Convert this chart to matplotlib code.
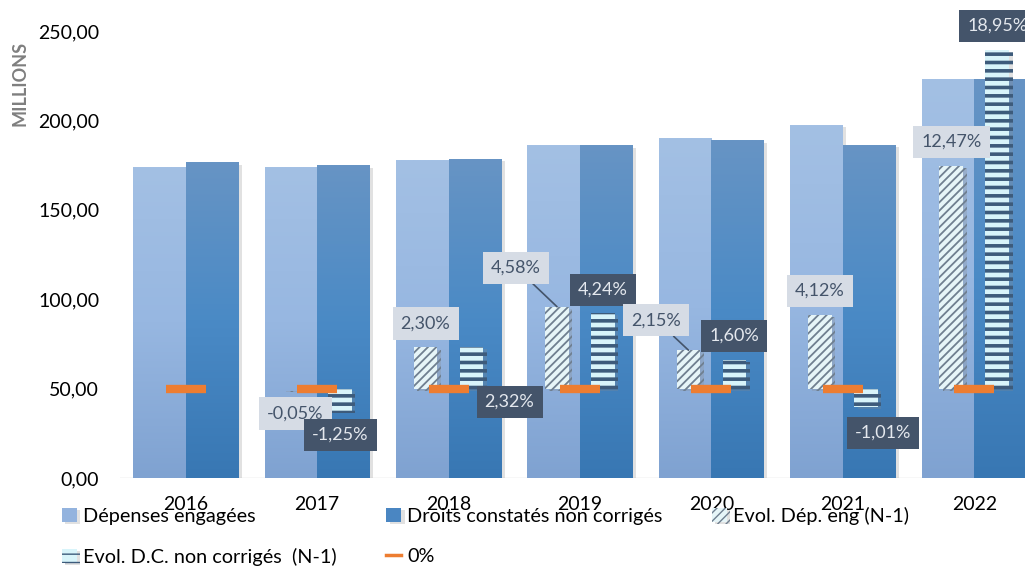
import matplotlib
matplotlib.use('Agg')
import matplotlib.pyplot as plt
import numpy as np
from matplotlib import patheffects as pe
from matplotlib.colors import LinearSegmentedColormap
from matplotlib.lines import Line2D
from matplotlib.ticker import FuncFormatter

# ---------------- data ----------------
years = ['2016', '2017', '2018', '2019', '2020', '2021', '2022']
depenses = [173.4, 173.4, 177.3, 185.7, 189.6, 197.4, 222.6]
droits = [176.2, 174.5, 178.4, 185.7, 188.5, 186.2, 222.6]
evol_dep = [np.nan, -0.05, 2.30, 4.58, 2.15, 4.12, 12.47]
evol_dc = [np.nan, -1.25, 2.32, 4.24, 1.60, -1.01, 18.95]
zero_pct = [0, 0, 0, 0, 0, 0, 0]

# label offsets in pixels (dx right, dy down) relative to bar end
dep_off = [None, (1, 24), (0, -24), (-41, -39), (-32, -30), (0, -24), (0, -24)]
dc_off = [None, (0, 24), (38, 55), (0, -23), (0, -24), (17, 26), (0, -24)]
dep_leader = [False, False, False, True, True, False, False]

plt.rcParams['font.family'] = ['Lato', 'DejaVu Sans']

W, H = 1025, 569
fig = plt.figure(figsize=(W / 100, H / 100), dpi=100)
ax = fig.add_axes([120 / W, 91 / H, 920 / W, 447 / H])

x = np.arange(len(years))
bw = 0.40

shadow = [pe.withSimplePatchShadow(offset=(2.5, -1.5), shadow_rgbFace='#8a8a8a', alpha=0.25), pe.Normal()]

b_dep = ax.bar(x - bw / 2, depenses, bw, color='#93B3DE', zorder=2, label='Dépenses engagées')
b_dc = ax.bar(x + bw / 2, droits, bw, color='#4A86C2', zorder=2, label='Droits constatés non corrigés')
for b in list(b_dep) + list(b_dc):
    b.set_path_effects(shadow)


def gradient_fill(axis, bars, colors, z):
    cmap = LinearSegmentedColormap.from_list('g', colors)
    grad = np.linspace(0, 1, 256).reshape(-1, 1)
    for r in bars:
        x0, y0, w, h = r.get_x(), r.get_y(), r.get_width(), r.get_height()
        axis.imshow(grad, extent=[x0, x0 + w, y0, y0 + h], origin='lower', cmap=cmap,
                    aspect='auto', zorder=z, interpolation='bilinear')


gradient_fill(ax, b_dep, ['#7FA2D1', '#97B7E1', '#A3C0E4'], 2.1)
gradient_fill(ax, b_dc, ['#3877B3', '#4A8AC6', '#6794C4'], 2.1)

ax.axhline(0, color='#D9D9D9', lw=1, zorder=1)
ax.set_xlim(-0.5, len(years) - 0.5)
ax.set_ylim(0, 250)
ax.set_yticks([0, 50, 100, 150, 200, 250])
ax.yaxis.set_major_formatter(FuncFormatter(lambda v, p: f"{v:.2f}".replace('.', ',')))
ax.set_xticks(x)
ax.set_xticklabels(years)
ax.tick_params(axis='y', length=0, pad=15, labelsize=14, labelcolor='#000000')
ax.tick_params(axis='x', length=0, pad=13, labelsize=14, labelcolor='#000000')
for s in ax.spines.values():
    s.set_visible(False)

# ---------------- secondary axis (percent) ----------------
ax2 = ax.twinx()
ax2.set_ylim(-5, 20)
ax2.axis('off')
ebw = 0.18
eoff = 0.175
with plt.rc_context({'hatch.linewidth': 1.3}):
    e_dep = ax2.bar(x - eoff, evol_dep, ebw, color='#E6F5F8', edgecolor='#6F7F90', linewidth=0,
                    hatch='////', zorder=3, label='Evol. Dép. eng (N-1)')
with plt.rc_context({'hatch.linewidth': 2.6}):
    e_dc = ax2.bar(x + eoff, evol_dc, ebw, color='#D8F4FA', edgecolor='#3D5B7B', linewidth=0,
                   hatch='--', zorder=3, label='Evol. D.C. non corrigés  (N-1)')
for b in list(e_dep) + list(e_dc):
    b.set_path_effects(shadow)

zl, = ax2.plot(x, zero_pct, ls='none', marker='_', ms=29, mew=6, color='#ED7D31', zorder=4, label='0%')


def fmt(v):
    return f"{v:.2f}".replace('.', ',') + '%'


for i in range(len(years)):
    if dep_off[i] is not None:
        dx, dy = dep_off[i]
        ap = dict(arrowstyle='-', color='#44546A', lw=1.2, shrinkA=0, shrinkB=0) if dep_leader[i] else None
        ax2.annotate(fmt(evol_dep[i]), xy=(x[i] - eoff, evol_dep[i]), xytext=(dx * 0.72, -dy * 0.72),
                     textcoords='offset points', ha='center', va='center', fontsize=13, color='#44546A',
                     bbox=dict(boxstyle='square,pad=0.45', fc='#D6DCE5', ec='none'),
                     arrowprops=ap, zorder=5)
    if dc_off[i] is not None:
        dx, dy = dc_off[i]
        ax2.annotate(fmt(evol_dc[i]), xy=(x[i] + eoff, evol_dc[i]), xytext=(dx * 0.72, -dy * 0.72),
                     textcoords='offset points', ha='center', va='center', fontsize=13, color='#E4E8EE',
                     bbox=dict(boxstyle='square,pad=0.45', fc='#44546A', ec='none'), zorder=5,
                     annotation_clip=False)

fig.text(20 / W, 1 - 83 / H, 'MILLIONS', rotation=90, ha='center', va='center',
         fontsize=13, fontweight='bold', color='#7F7F7F')

zero_handle = Line2D([], [], color='#ED7D31', lw=2.5)
handles = [b_dep, e_dc, b_dc, zero_handle, e_dep]
labels = ['Dépenses engagées', 'Evol. D.C. non corrigés  (N-1)', 'Droits constatés non corrigés',
          '0%', 'Evol. Dép. eng (N-1)']
fig.legend(handles, labels, ncol=3, loc='upper left', bbox_to_anchor=(62 / W, 1 - 507 / H),
           frameon=False, fontsize=14.3, handlelength=0.75, handleheight=0.75, handletextpad=0.3,
           columnspacing=2.5, labelspacing=1.15, borderpad=0, borderaxespad=0)

fig.savefig('out.png', dpi=100)
